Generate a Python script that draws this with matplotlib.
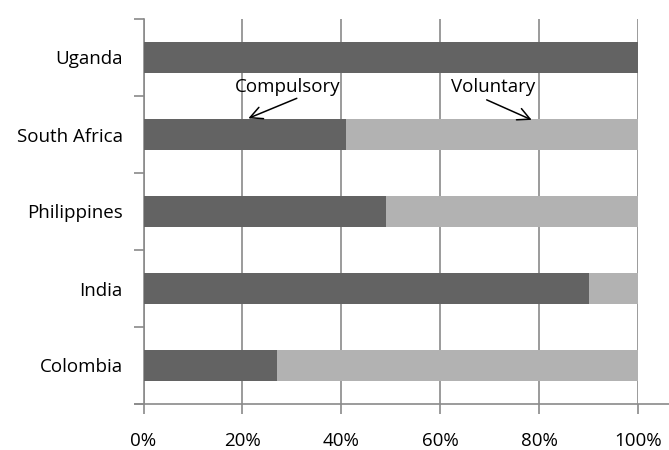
import numpy as np
import matplotlib
matplotlib.use("Agg")
import matplotlib.pyplot as plt
import matplotlib.ticker as ticker

countries = ["Colombia", "India", "Philippines", "South Africa", "Uganda"]
compulsory = [27, 90, 49, 41, 100]
voluntary = [73, 10, 51, 59, 0]
x_ticks = [0, 20, 40, 60, 80, 100]

DARK = "#636363"
LIGHT = "#b2b2b2"
AXIS = "#8a8a8a"
FS = 13.5

plt.rcParams["font.family"] = ["Open Sans", "DejaVu Sans"]

fig = plt.figure(figsize=(6.69, 4.5), dpi=100)
ax = fig.add_axes([143.5 / 669, 1 - 404 / 450, 494.5 / 669, 385 / 450])

y = np.arange(len(countries))
ax.barh(y, compulsory, height=0.39, color=DARK, zorder=3)
ax.barh(y, voluntary, left=compulsory, height=0.39, color=LIGHT, zorder=3)

ax.set_xlim(0, 100)
ax.set_ylim(-0.5, len(countries) - 0.5)
ax.set_xticks(x_ticks)
ax.xaxis.set_major_formatter(ticker.FuncFormatter(lambda v, _p: f"{v:.0f}%"))
ax.set_yticks(y)
ax.set_yticklabels(countries)
ax.yaxis.set_minor_locator(ticker.FixedLocator(np.arange(-0.5, len(countries), 1.0)))

ax.grid(True, axis="x", color=AXIS, linewidth=1.2, zorder=0)
for side in ["top", "right", "bottom"]:
    ax.spines[side].set_visible(False)
ax.spines["left"].set_color(AXIS)
ax.spines["left"].set_linewidth(1.2)

# horizontal axis line runs past the plot area on both sides
ax.plot([(135 - 143.5) / 494.5, (669 - 143.5) / 494.5], [0, 0],
        transform=ax.transAxes, color=AXIS, linewidth=1.2, clip_on=False, zorder=4)

ax.tick_params(axis="x", direction="out", length=7, width=1.2, color=AXIS,
               labelsize=FS, pad=13)
ax.tick_params(axis="y", which="major", length=0, labelsize=FS, pad=15)
ax.tick_params(axis="y", which="minor", direction="out", length=7, width=1.2,
               color=AXIS)

# series labels with arrows pointing at the South Africa bar
arrow = dict(arrowstyle="->", color="black", linewidth=1.1, shrinkA=0, shrinkB=0,
             mutation_scale=22)
ax.annotate("", xy=(21.2, 3.21), xytext=(31.0, 3.47), arrowprops=arrow, zorder=5)
ax.annotate("", xy=(78.5, 3.19), xytext=(69.4, 3.45), arrowprops=arrow, zorder=5)
ax.text(29.2, 3.62, "Compulsory", ha="center", va="center", fontsize=FS, zorder=5)
ax.text(70.8, 3.62, "Voluntary", ha="center", va="center", fontsize=FS, zorder=5)

fig.savefig("out.png", dpi=100, facecolor="white")
plt.close(fig)
